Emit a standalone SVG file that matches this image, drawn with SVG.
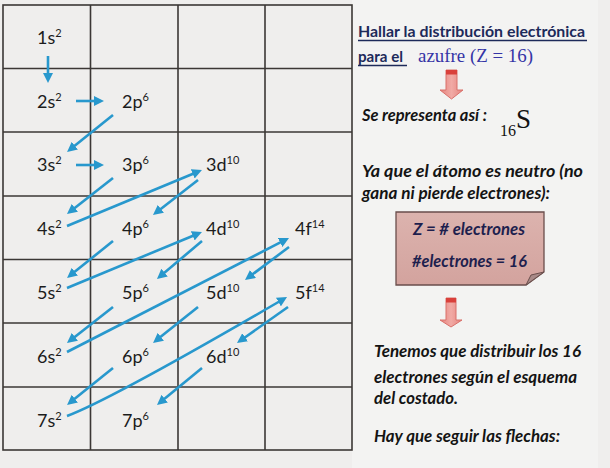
<svg xmlns="http://www.w3.org/2000/svg" width="610" height="468" viewBox="0 0 610 468">
<style>
.bg{fill:#efeeed}
.grid{stroke:#3b3735;stroke-width:1.6;fill:none}
.lbl{font-family:Lato,"Liberation Sans",sans-serif;font-size:18px;fill:#1c1c1c}
.sup{font-size:11px}
.arr{stroke:#2898cd;stroke-width:2.6;fill:none;marker-end:url(#ah)}
.bi{font-family:Lato,"Liberation Sans",sans-serif;font-weight:bold;font-style:italic;font-size:17px;fill:#141414}
.hd{font-family:Lato,"Liberation Sans",sans-serif;font-weight:bold;font-size:16px;fill:#1d2a5a}
.ser{font-family:"Liberation Serif","DejaVu Serif",serif}
.box{font-family:Lato,"Liberation Sans",sans-serif;font-weight:bold;font-style:italic;font-size:17px;fill:#1e1f4e}
.red{stroke:#d9706b;stroke-width:1;fill:url(#rg)}
</style>
<defs>
<marker id="ah" markerUnits="userSpaceOnUse" markerWidth="11" markerHeight="10" refX="3" refY="5" orient="auto">
<path d="M0,0 L10,5 L0,10 Z" fill="#2898cd"/>
</marker>
<linearGradient id="rg" x1="0" y1="0" x2="1" y2="0">
<stop offset="0" stop-color="#e5837e"/>
<stop offset="0.5" stop-color="#f1aaa5"/>
<stop offset="1" stop-color="#e5837e"/>
</linearGradient>
<linearGradient id="pg" x1="0" y1="0" x2="0" y2="1">
<stop offset="0" stop-color="#dcb3ae"/>
<stop offset="1" stop-color="#d3a39e"/>
</linearGradient>
</defs>
<rect class="bg" x="0" y="0" width="610" height="468"/>
<rect x="352" y="0" width="246" height="468" fill="#f3f3f2"/>

<g id="grid" class="grid">
<rect x="3" y="5" width="349" height="445"/>
<line x1="90.5" y1="5" x2="90.5" y2="450"/>
<line x1="178" y1="5" x2="178" y2="450"/>
<line x1="265" y1="5" x2="265" y2="450"/>
<line x1="3" y1="68.5" x2="352" y2="68.5"/>
<line x1="3" y1="132" x2="352" y2="132"/>
<line x1="3" y1="196" x2="352" y2="196"/>
<line x1="3" y1="259.5" x2="352" y2="259.5"/>
<line x1="3" y1="323" x2="352" y2="323"/>
<line x1="3" y1="387" x2="352" y2="387"/>
</g>

<g id="n1s"><text class="lbl" x="37" y="44">1s<tspan class="sup" dy="-7">2</tspan></text></g>
<g id="n2s"><text class="lbl" x="37" y="108">2s<tspan class="sup" dy="-7">2</tspan></text></g>
<g id="n2p"><text class="lbl" x="122" y="108">2p<tspan class="sup" dy="-7">6</tspan></text></g>
<g id="n3s"><text class="lbl" x="37" y="171">3s<tspan class="sup" dy="-7">2</tspan></text></g>
<g id="n3p"><text class="lbl" x="122" y="171">3p<tspan class="sup" dy="-7">6</tspan></text></g>
<g id="n3d"><text class="lbl" x="206" y="171">3d<tspan class="sup" dy="-7">10</tspan></text></g>
<g id="n4s"><text class="lbl" x="37" y="235">4s<tspan class="sup" dy="-7">2</tspan></text></g>
<g id="n4p"><text class="lbl" x="122" y="235">4p<tspan class="sup" dy="-7">6</tspan></text></g>
<g id="n4d"><text class="lbl" x="206" y="235">4d<tspan class="sup" dy="-7">10</tspan></text></g>
<g id="n4f"><text class="lbl" x="295" y="235">4f<tspan class="sup" dy="-7">14</tspan></text></g>
<g id="n5s"><text class="lbl" x="37" y="299">5s<tspan class="sup" dy="-7">2</tspan></text></g>
<g id="n5p"><text class="lbl" x="122" y="299">5p<tspan class="sup" dy="-7">6</tspan></text></g>
<g id="n5d"><text class="lbl" x="206" y="299">5d<tspan class="sup" dy="-7">10</tspan></text></g>
<g id="n5f"><text class="lbl" x="295" y="299">5f<tspan class="sup" dy="-7">14</tspan></text></g>
<g id="n6s"><text class="lbl" x="37" y="363">6s<tspan class="sup" dy="-7">2</tspan></text></g>
<g id="n6p"><text class="lbl" x="122" y="363">6p<tspan class="sup" dy="-7">6</tspan></text></g>
<g id="n6d"><text class="lbl" x="206" y="363">6d<tspan class="sup" dy="-7">10</tspan></text></g>
<g id="n7s"><text class="lbl" x="37" y="427">7s<tspan class="sup" dy="-7">2</tspan></text></g>
<g id="n7p"><text class="lbl" x="122" y="427">7p<tspan class="sup" dy="-7">6</tspan></text></g>

<g id="connectors">
<path class="arr" d="M48,56 L48,76"/>
<path class="arr" d="M76,101 L97,101"/>
<path class="arr" d="M113,115 L72.5,147.6"/>
<path class="arr" d="M76,165 L97,165"/>
<path class="arr" d="M113,178 L72.5,209.7"/>
<path class="arr" d="M67,226 L195.5,172.7"/>
<path class="arr" d="M198,180 L158.5,210.7"/>
<path class="arr" d="M113,241 L72.5,273.6"/>
<path class="arr" d="M67,288 L195.5,234.7"/>
<path class="arr" d="M202,241 L162.3,274.5"/>
<path class="arr" d="M113,307 L72.5,338.7"/>
<path class="arr" d="M67,352 L282.8,241.2"/>
<path class="arr" d="M289,247 L250.6,275.8"/>
<path class="arr" d="M198,307 L158.5,338.6"/>
<path class="arr" d="M113,368 L72.5,400.6"/>
<path class="arr" d="M67,416 Q110,400 281,300.5"/>
<path class="arr" d="M288,307 L242.7,339"/>
<path class="arr" d="M202,368 L162.4,400.6"/>
</g>

<g id="title">
<text class="hd" x="358" y="37" textLength="227" lengthAdjust="spacingAndGlyphs">Hallar la distribución electrónica</text>
<line x1="358" y1="40.5" x2="587" y2="40.5" stroke="#1d2a5a" stroke-width="1.3"/>
<text class="hd" x="358" y="62" textLength="45" lengthAdjust="spacingAndGlyphs">para el</text>
<line x1="358" y1="65.5" x2="407" y2="65.5" stroke="#1d2a5a" stroke-width="1.3"/>
<text class="ser" x="418" y="62" font-size="18" fill="#3535a6" textLength="115" lengthAdjust="spacingAndGlyphs">azufre (Z = 16)</text>
</g>

<g id="arrow1">
<path class="red" d="M446,70 H457 V90 H463 L451.5,99 L440,90 H446 Z"/>
<rect x="446" y="70" width="11" height="4.5" fill="#d9403b"/>
</g>

<g id="represent">
<text class="bi" x="362" y="121" textLength="125" lengthAdjust="spacingAndGlyphs">Se representa así :</text>
<text class="ser" x="500" y="136" font-size="16" fill="#111">16</text>
<text class="ser" x="516" y="128" font-size="27" fill="#111">S</text>
</g>

<g id="neutro">
<text class="bi" x="362" y="177" textLength="221" lengthAdjust="spacingAndGlyphs">Ya que el átomo es neutro (no</text>
<text class="bi" x="362" y="199" textLength="188" lengthAdjust="spacingAndGlyphs">gana ni pierde electrones):</text>
</g>

<g id="note">
<path d="M396,212 H544 V272 L526,285 H396 Z" fill="url(#pg)" stroke="#6a4e4c" stroke-width="1.3"/>
<path d="M544,272 L531,275 L526,285 Z" fill="#a88a88" stroke="#6a4e4c" stroke-width="1"/>
<text class="box" x="469" y="235" text-anchor="middle" textLength="112" lengthAdjust="spacingAndGlyphs">Z = # electrones</text>
<text class="box" x="469.5" y="267" text-anchor="middle" textLength="115" lengthAdjust="spacingAndGlyphs">#electrones = 16</text>
</g>

<g id="arrow2">
<path class="red" d="M446,298 H456 V320 H462 L451,327 L440,320 H446 Z"/>
<rect x="446" y="298" width="10" height="4.5" fill="#d9403b"/>
</g>

<g id="instr">
<text class="bi" x="374" y="357" textLength="207" lengthAdjust="spacingAndGlyphs">Tenemos que distribuir los 16</text>
<text class="bi" x="374" y="383" textLength="203" lengthAdjust="spacingAndGlyphs">electrones según el esquema</text>
<text class="bi" x="374" y="404" textLength="84" lengthAdjust="spacingAndGlyphs">del costado.</text>
<text class="bi" x="374" y="442" textLength="186" lengthAdjust="spacingAndGlyphs">Hay que seguir las flechas:</text>
</g>
</svg>
